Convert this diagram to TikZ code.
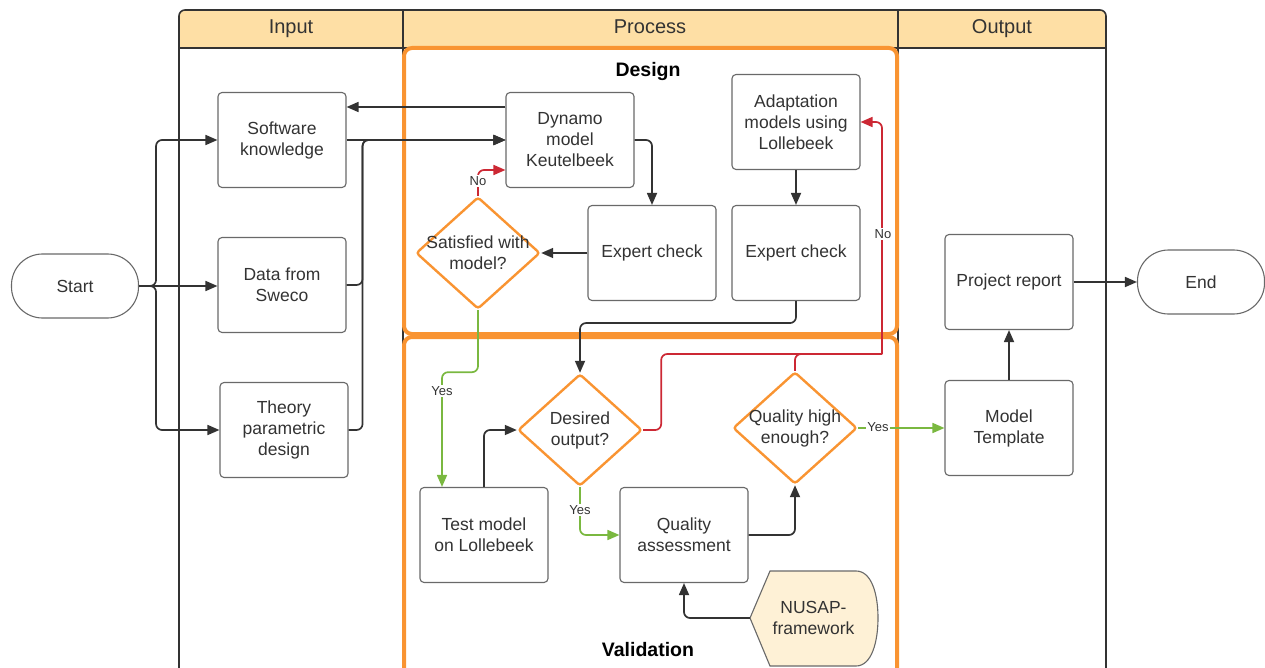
\documentclass[tikz,border=0pt]{standalone}
\usepackage{fontspec}
\setmainfont{Liberation Sans}
\usetikzlibrary{arrows.meta,shapes.geometric}
\definecolor{ink}{RGB}{51,51,51}
\definecolor{edge}{RGB}{105,105,105}
\definecolor{lane}{RGB}{254,223,165}
\definecolor{phase}{RGB}{249,148,50}
\definecolor{nogo}{RGB}{204,40,52}
\definecolor{go}{RGB}{122,184,64}
\definecolor{cream}{RGB}{254,241,214}

\begin{document}
\begin{tikzpicture}[x=1pt,y=-1pt,
  every node/.style={text=ink, font=\fontsize{17.5}{21}\selectfont, align=center},
  box/.style={draw=edge, line width=1.1pt, rounded corners=4pt, minimum width=128pt,
    minimum height=95pt, inner sep=2pt, fill=white},
  term/.style={draw=edge, line width=1.1pt, rounded corners=31pt, minimum width=127pt,
    minimum height=64pt, fill=white},
  dia/.style={diamond, draw=phase, line width=2.4pt, rounded corners=3pt,
    minimum width=124pt, minimum height=112pt, inner sep=0pt, fill=white},
  head/.style={font=\fontsize{20}{24}\selectfont, anchor=base},
  phasetitle/.style={font=\bfseries\fontsize{19.5}{23}\selectfont, text=black, anchor=base},
  tip/.style={-{Triangle[length=12pt,width=10pt]}},
  wire/.style={draw=ink, line width=1.7pt, rounded corners=6pt},
  conn/.style={wire, tip},
  noline/.style={draw=nogo, line width=1.7pt, rounded corners=6pt},
  goline/.style={draw=go, line width=1.7pt, rounded corners=6pt},
  lbl/.style={font=\fontsize{13}{15}\selectfont, fill=white, inner sep=1pt}
]
\clip (0,0) rectangle (1265,668);

% swimlane pool with header band
\fill[lane, rounded corners=6pt] (179,10) rectangle (1106,48);
\fill[lane] (179,30) rectangle (1106,48);
\draw[ink, line width=1.6pt, rounded corners=6pt] (179,690) -- (179,10) -- (1106,10) -- (1106,690);
\draw[ink, line width=1.6pt] (179,48) -- (1106,48);
\draw[ink, line width=1.6pt] (403,10) -- (403,690);
\draw[ink, line width=1.6pt] (898,10) -- (898,690);
\node[head] (hin) at (291,34) {Input};
\node[head] (hpr) at (650,34) {Process};
\node[head] (hout) at (1002,34) {Output};

% phase frames
\draw[phase, line width=4pt, rounded corners=8pt] (404,48) rectangle (897,334);
\draw[phase, line width=4pt, rounded corners=8pt] (404,337) rectangle (897,690);
\node[phasetitle] (tdesign) at (648,77) {Design};
\node[phasetitle] (tvalid) at (648,656) {Validation};

% nodes
\node[term] (start) at (75,286) {Start};
\node[term] (end) at (1201,282) {End};
\node[box] (sk) at (282,140) {Software\\knowledge};
\node[box] (data) at (282,285) {Data from\\Sweco};
\node[box] (theory) at (284,430) {Theory\\parametric\\design};
\node[box] (dyn) at (570,140) {Dynamo\\model\\Keutelbeek};
\node[box] (ada) at (796,122) {Adaptation\\models using\\Lollebeek};
\node[box] (ec1) at (652,253) {Expert check};
\node[box] (ec2) at (796,253) {Expert check};
\node[box] (test) at (484,535) {Test model\\on Lollebeek};
\node[box] (qa) at (684,535) {Quality\\assessment};
\node[box] (pr) at (1009,282) {Project report};
\node[box] (mt) at (1009,428) {Model\\Template};

\node[dia] (sat) at (478,253) {};
\node (sattxt) at (sat) {Satisfied with\\model?};
\node[dia] (des) at (580,430) {};
\node (destxt) at (des) {Desired\\output?};
\node[dia] (qh) at (795,428) {};
\node (qhtxt) at (qh) {Quality high\\enough?};

\draw[draw=edge, line width=1.1pt, fill=cream]
  (750,618) -- (770,571) -- (856,571)
  .. controls (872,571) and (878,595) .. (878,618)
  .. controls (878,641) and (872,666) .. (856,666)
  -- (770,666) -- cycle;
\node[minimum width=127pt, minimum height=95pt, inner sep=0pt] (nusap) at (813.5,618) {NUSAP-\\framework};

\coordinate (redtop) at (882,354);

% connectors: start to inputs
\draw[conn] (start.east) -- ++(17,0) |- (sk.west);
\draw[conn] (start.east) -- (data.west |- start.east);
\draw[conn] (start.east) -- ++(17,0) |- (theory.west);

% inputs to the Dynamo model
\draw[conn] (sk.east) -- (dyn.west);
\draw[conn] (data.east) -- ++(16,0) |- (dyn.west);
\draw[conn] (theory.east) -- ++(14,0) |- (dyn.west);
\draw[conn] ([yshift=33pt]dyn.west) -- ([yshift=33pt]dyn.west -| sk.east);

% design loop
\draw[conn] (dyn.east) -| (ec1.north);
\draw[conn] (ec1.west) -- (sat.east);
\draw[noline, tip] (sat.north) |- ([yshift=-30pt]dyn.west);
\node[lbl] (lno1) at (478,181) {No};
\draw[goline, tip] (sat.south) -- ++(0,62) -| ([xshift=-42pt]test.north);
\node[lbl] (lyes1) at (442,391) {Yes};
\draw[conn] (ada.south) -- (ec2.north);
\draw[conn] (ec2.south) -- ++(0,22) -| (des.north);

% validation loop
\draw[conn] (test.north) |- (des.west);
\draw[goline, tip] (des.south) |- (qa.west);
\node[lbl] (lyes2) at (580,510) {Yes};
\draw[noline] (des.east) -- ++(18,0) |- (redtop);
\draw[noline] (qh.north) |- (redtop);
\draw[noline, tip] (redtop) |- (ada.east);
\node[lbl] (lno2) at (883,234) {No};
\draw[conn] (qa.east) -| (qh.south);
\draw[conn] (nusap.west) -| (qa.south);
\draw[goline, tip] (qh.east) -- (mt.west);
\node[lbl] (lyes3) at (878,427) {Yes};

% outputs
\draw[conn] (mt.north) -- (pr.south);
\draw[conn] (pr.east) -- (end.west);
\end{tikzpicture}
\end{document}
